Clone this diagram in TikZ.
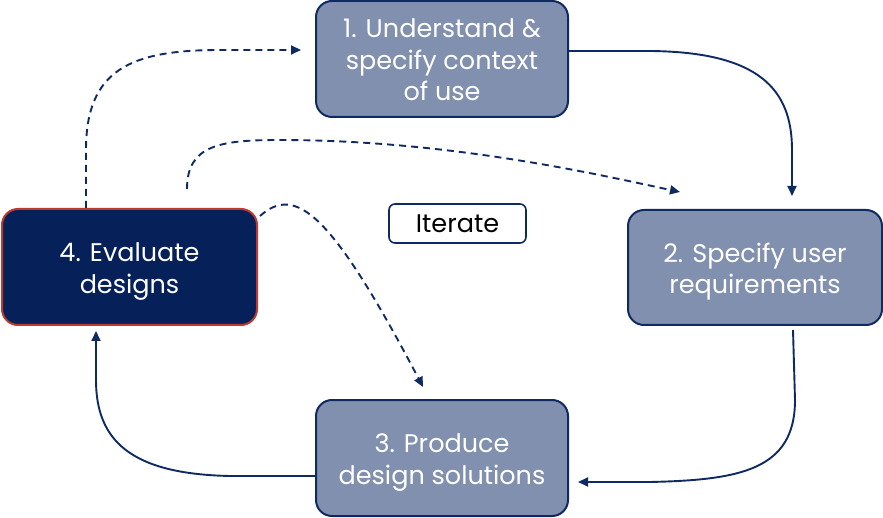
\documentclass[tikz,border=0pt]{standalone}
\usepackage{fontspec}
\setmainfont{Poppins}
\usetikzlibrary{arrows.meta,calc}
\definecolor{navy}{HTML}{0F2A63}
\definecolor{slate}{HTML}{8190AE}
\definecolor{darkfill}{HTML}{06205A}
\definecolor{redb}{HTML}{BE3A2C}
\newcommand{\boxlines}[1]{\raisebox{-4pt}[\height][\depth]{\begin{tabular}{@{}c@{}}#1\end{tabular}}}
\begin{document}
\begin{tikzpicture}[x=1pt,y=-1pt,
  stagebox/.style={draw=navy,fill=slate,line width=2pt,rounded corners=16pt,text=white,align=center,font=\fontsize{25.5}{31.5}\selectfont,inner sep=0pt},
  conn/.style={draw=navy,line width=1.9pt,-{Triangle[length=10pt,width=9pt]}},
  dconn/.style={conn,dash pattern=on 7pt off 5pt}]
\useasboundingbox (0,0) rectangle (883,518);
\node[stagebox,minimum width=252pt,minimum height=116pt] (b1) at (442,59) {\boxlines{1. Understand \&\\specify context\\of use}};
\node[stagebox,minimum width=254pt,minimum height=115pt] (b2) at (755,267.5) {\boxlines{2. Specify user\\requirements}};
\node[stagebox,minimum width=252pt,minimum height=116pt] (b3) at (442,458) {\boxlines{3. Produce\\design solutions}};
\node[stagebox,fill=darkfill,draw=redb,minimum width=255pt,minimum height=116pt] (b4) at (129.5,267) {\boxlines{4. Evaluate\\designs}};
\node[draw=navy,fill=white,text=black,line width=1.6pt,rounded corners=6pt,minimum width=137pt,minimum height=39pt,inner sep=0pt,font=\fontsize{25.5}{28}\selectfont] (it) at (457.5,223.5) {Iterate};
% solid cycle
\draw[conn] ([yshift=8pt]b1.east) -- (650,51) .. controls (760,52) and (792,90) .. (792,150) -- ([xshift=37pt,yshift=13pt]b2.north);
\draw[conn] ([xshift=38pt,yshift=-4pt]b2.south) -- (795,400) .. controls (795,470) and (740,480) .. (650,482) -- ([xshift=9pt,yshift=-24pt]b3.east);
\draw[conn] ([yshift=-18pt]b3.west) -- (230,476) .. controls (130,474) and (96,440) .. (96,380) -- ([xshift=-33.5pt,yshift=-5pt]b4.south);
% dashed iterations
\draw[dconn] ([xshift=-43.5pt]b4.north) -- (86,150) .. controls (86,70) and (130,50) .. (220,50) -- ([xshift=-14pt,yshift=9pt]b1.west);
\draw[dconn] ([xshift=57.5pt,yshift=19pt]b4.north) .. controls (187,145) and (220,140) .. (280,140) .. controls (450,140) and (600,175) .. ([xshift=-75pt,yshift=17pt]b2.north);
\draw[dconn] ([xshift=2pt,yshift=-8pt]b4.north east) .. controls (295,185) and (330,210) .. ([xshift=-19pt,yshift=12pt]b3.north);
\end{tikzpicture}
\end{document}
